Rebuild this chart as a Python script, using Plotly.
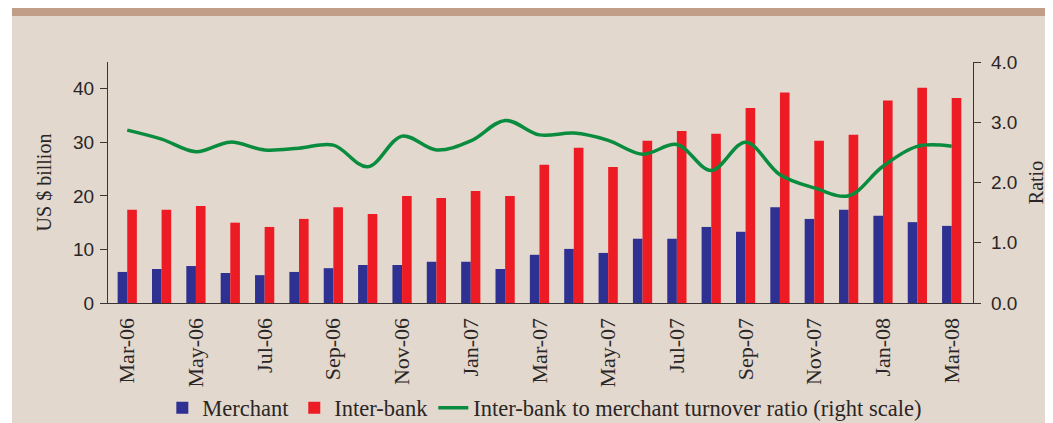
import plotly.graph_objects as go

months = ["Mar-06", "Apr-06", "May-06", "Jun-06", "Jul-06", "Aug-06", "Sep-06",
          "Oct-06", "Nov-06", "Dec-06", "Jan-07", "Feb-07", "Mar-07", "Apr-07",
          "May-07", "Jun-07", "Jul-07", "Aug-07", "Sep-07", "Oct-07", "Nov-07",
          "Dec-07", "Jan-08", "Feb-08", "Mar-08"]

merchant = [5.8, 6.35, 6.9, 5.6, 5.2, 5.8, 6.5, 7.1, 7.1, 7.7, 7.7, 6.35, 9.0,
            10.1, 9.35, 12.0, 12.0, 14.2, 13.3, 17.9, 15.7, 17.4, 16.3, 15.1, 14.4]

interbank = [17.4, 17.4, 18.1, 15.0, 14.2, 15.7, 17.9, 16.6, 20.0, 19.6, 20.9,
             20.0, 25.8, 29.0, 25.4, 30.3, 32.1, 31.6, 36.4, 39.3, 30.3, 31.4,
             37.8, 40.2, 38.3]

ratio = [2.87, 2.72, 2.51, 2.67, 2.54, 2.57, 2.62, 2.26, 2.77, 2.54, 2.69, 3.03,
         2.79, 2.82, 2.70, 2.47, 2.63, 2.20, 2.67, 2.13, 1.91, 1.78, 2.27, 2.60, 2.60]

left_ticks = [0, 10, 20, 30, 40]
right_ticks = [0, 1, 2, 3, 4]

idx = list(range(len(months)))
label_idx = idx[::2]
bound_idx = [i - 0.5 for i in idx[::2]]

BG = "#E2D8CE"
AX = "#3A3535"
TXT = "#2A2626"
SERIF = "Liberation Serif, Times New Roman, serif"
SANS = "Liberation Sans, Arial, sans-serif"

fig = go.Figure()
fig.add_trace(go.Bar(x=idx, y=merchant, name="Merchant", marker_color="#2E3192",
                     marker_line_width=0))
fig.add_trace(go.Bar(x=idx, y=interbank, name="Inter-bank", marker_color="#ED1C24",
                     marker_line_width=0))
fig.add_trace(go.Scatter(x=idx, y=ratio, yaxis="y2", mode="lines",
                         name="Inter-bank to merchant turnover ratio (right scale)",
                         line=dict(color="#0A8C3E", width=3.5, shape="spline",
                                   smoothing=1.0)))

xr = [-0.56, 24.62]
fig.update_layout(
    width=1045, height=415,
    margin=dict(l=100, r=80, t=54, b=120, autoexpand=False),
    paper_bgcolor=BG, plot_bgcolor=BG,
    barmode="group", bargap=0.44, bargroupgap=0,
    showlegend=True,
    legend=dict(orientation="h", x=0.505, xanchor="center", y=-0.436,
                yanchor="middle", font=dict(family=SERIF, size=22.5, color=TXT),
                bgcolor="rgba(0,0,0,0)", traceorder="normal", itemwidth=30),
    xaxis=dict(range=xr, tickmode="array", tickvals=label_idx,
               ticktext=[months[i] for i in label_idx], tickangle=-90,
               ticks="", showline=True, linecolor=AX, linewidth=1.2,
               showgrid=False, zeroline=False, ticklabelstandoff=5,
               tickfont=dict(family=SERIF, size=22, color=TXT)),
    xaxis3=dict(range=xr, overlaying="x", anchor="y", side="bottom",
                tickmode="array", tickvals=bound_idx, ticks="outside",
                ticklen=7, tickwidth=1.2, tickcolor=AX, showticklabels=False,
                showline=False, showgrid=False, zeroline=False),
    yaxis=dict(range=[0, 45], tickmode="array", tickvals=left_ticks,
               ticks="outside", ticklen=7, tickwidth=1.2, tickcolor=AX,
               showline=True, linecolor=AX, linewidth=1.2, showgrid=False,
               zeroline=False, ticklabelstandoff=2,
               tickfont=dict(family=SANS, size=19, color=TXT),
               title=dict(text="US $ billion", standoff=15,
                          font=dict(family=SERIF, size=20, color=TXT))),
    yaxis2=dict(range=[0, 4], overlaying="y", side="right", tickmode="array",
                tickvals=right_ticks, tickformat=".1f", ticks="outside",
                ticklen=7, tickwidth=1.2, tickcolor=AX, showline=True,
                linecolor=AX, linewidth=1.2, showgrid=False, zeroline=False,
                ticklabelstandoff=6,
                tickfont=dict(family=SANS, size=19, color=TXT),
                title=dict(text="Ratio", standoff=12,
                           font=dict(family=SERIF, size=20, color=TXT))),
    shapes=[
        dict(type="rect", xref="paper", yref="paper", xsizemode="pixel",
             ysizemode="pixel", xanchor=0, yanchor=0, x0=-105, x1=-96,
             y0=-125, y1=300, fillcolor="#FFFFFF", line_width=0, layer="below"),
        dict(type="rect", xref="paper", yref="paper", xsizemode="pixel",
             ysizemode="pixel", xanchor=0, yanchor=0, x0=-96, x1=950,
             y0=287, y1=300, fillcolor="#C09E88", line_width=0, layer="below"),
    ],
)

fig.write_html("out.html")
